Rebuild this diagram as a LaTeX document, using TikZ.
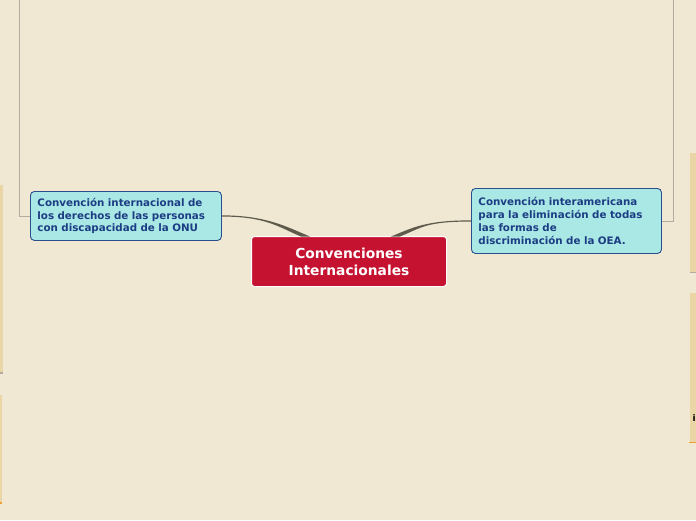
\documentclass[tikz,border=0pt]{standalone}
\usepackage{fontspec}
\setmainfont{DejaVu Sans}
\usetikzlibrary{calc}
\definecolor{bg}{HTML}{F0E8D3}
\definecolor{subfill}{HTML}{A9E8E4}
\definecolor{subborder}{HTML}{2A4E8E}
\definecolor{subtext}{HTML}{1C3C84}
\definecolor{rootfill}{HTML}{C51230}
\definecolor{connc}{HTML}{5E5A4C}
\definecolor{framec}{HTML}{B4ACA0}
\definecolor{strip}{HTML}{EAD5A6}
\definecolor{orangec}{HTML}{F0A030}
\tikzset{
  subnode/.style={draw=subborder, line width=0.9pt, fill=subfill, rounded corners=4pt,
    text=subtext, font=\fontsize{10.3}{12.8}\selectfont\bfseries, align=left,
    inner xsep=7pt, inner ysep=0pt, anchor=north west},
  rootnode/.style={draw=white, line width=1pt, fill=rootfill, rounded corners=3pt,
    text=white, font=\fontsize{13.8}{17}\selectfont\bfseries, align=center,
    inner sep=0pt, anchor=north west},
  conn/.style={fill=connc},
  framel/.style={draw=framec, line width=0.8pt},
}
\begin{document}
\begin{tikzpicture}[x=1pt,y=-1pt]
\useasboundingbox (0,0) rectangle (696,520);
\fill[bg] (0,0) rectangle (696,520);
% side strips
\fill[strip] (0,185) rectangle (2.5,373);
\fill[framec] (0,372) rectangle (2.5,374);
\fill[strip] (0,395) rectangle (2,503);
\fill[orangec] (0,502) rectangle (2,504);
\fill[strip] (690,153) rectangle (696,272);
\fill[framec] (690,271.5) rectangle (696,272.5);
\fill[strip] (690,293) rectangle (696,442);
\fill[orangec] (689,441.5) rectangle (696,443);
\node[font=\fontsize{9}{9}\selectfont\bfseries, inner sep=0pt, anchor=west] (ichar) at (692.5,418) {i};
% nodes
\node[subnode, text width=177pt, minimum height=49pt] (L) at (30,191)
  {Convención internacional de\\los derechos de las personas\\con discapacidad de la ONU};
\node[subnode, text width=176pt, minimum height=65pt] (R) at (471,188)
  {Convención interamericana\\para la eliminación de todas\\las formas de\\discriminación de la OEA.};
\node[rootnode, minimum width=195pt, minimum height=50pt] (C) at (251,236)
  {Convenciones\\Internacionales};
% frame lines
\draw[framel] (19,0) |- (L.west);
\draw[framel] (673,0) |- (R.east);
% connectors
\fill[conn] ($(L.east)+(0,-0.6)$) .. controls +(45,0) and +(-22,-9) .. ($(C.north west)+(59,0.5)$)
  -- ($(C.north west)+(50,0.5)$) .. controls +(-22,-9) and +(45,0) .. ($(L.east)+(0,0.6)$) -- cycle;
\fill[conn] ($(R.west)+(0,-0.6)$) .. controls +(-45,0) and +(22,-9) .. ($(C.north west)+(140,0.5)$)
  -- ($(C.north west)+(149,0.5)$) .. controls +(22,-9) and +(-45,0) .. ($(R.west)+(0,0.6)$) -- cycle;
\end{tikzpicture}
\end{document}
